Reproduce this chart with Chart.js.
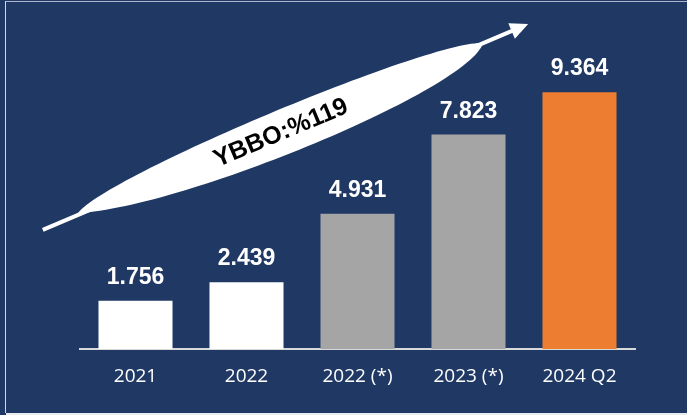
<!DOCTYPE html>
<html>
<head>
<meta charset="utf-8">
<script src="https://cdn.jsdelivr.net/npm/chart.js@4.4.1/dist/chart.umd.min.js"></script>
<style>
  html, body { margin: 0; padding: 0; }
  body { width: 687px; height: 415px; background: #203864; position: relative; overflow: hidden; }
  .frame { position: absolute; left: 5px; top: 1px; right: 0; bottom: 2px; border-left: 1.5px solid #d3d7e4; border-top: 1px solid #aeb6cc; }
  .foot { position: absolute; left: 6px; right: 0; bottom: 0; height: 2px; background: #e9ebf1; }
  #wrap { position: absolute; left: 0; top: 0; width: 687px; height: 415px; }
</style>
</head>
<body>
<div class="frame"></div>
<div class="foot"></div>
<div id="wrap"><canvas id="chart"></canvas></div>
<script>
// data
const categories = ['2021', '2022', '2022 (*)', '2023 (*)', '2024 Q2'];
const values = [1756, 2439, 4931, 7823, 9364];
const barColors = ['#ffffff', '#ffffff', '#a5a5a5', '#a5a5a5', '#ed7d31'];
const growthLabel = 'YBBO:%119';
const yMax = 12000;

// 1756 -> "1.756"
function fmt(v) {
  return String(v).replace(/\B(?=(\d{3})+(?!\d))/g, '.');
}

// values above bars
const valueLabels = {
  id: 'valueLabels',
  afterDatasetsDraw(chart) {
    const ctx = chart.ctx;
    const meta = chart.getDatasetMeta(0);
    ctx.save();
    ctx.font = 'bold 23px "Liberation Sans", Arial, sans-serif';
    ctx.fillStyle = '#ffffff';
    ctx.textAlign = 'center';
    ctx.textBaseline = 'alphabetic';
    meta.data.forEach((bar, i) => {
      ctx.fillText(fmt(values[i]), bar.x, bar.y - 17);
    });
    ctx.restore();
  }
};

// white swoosh arrow with the growth text
const growthArrow = {
  id: 'growthArrow',
  afterDraw(chart) {
    const ctx = chart.ctx;
    const ax = 78, ay = 213, bx = 483, by = 43;
    const len = Math.hypot(bx - ax, by - ay);
    ctx.save();
    ctx.translate(ax, ay);
    ctx.rotate(Math.atan2(by - ay, bx - ax));
    ctx.fillStyle = '#ffffff';
    ctx.strokeStyle = '#ffffff';

    // shaft
    ctx.lineWidth = 4;
    ctx.beginPath();
    ctx.moveTo(-39, 2);
    ctx.lineTo(len + 36, 0);
    ctx.stroke();

    // head
    ctx.beginPath();
    ctx.moveTo(len + 49, 0);
    ctx.lineTo(len + 31, -8.5);
    ctx.lineTo(len + 31, 8.5);
    ctx.closePath();
    ctx.fill();

    // lens
    ctx.beginPath();
    ctx.moveTo(0, 0);
    ctx.bezierCurveTo(40, -24, 395, -23, len, 0);
    ctx.bezierCurveTo(410, 37, 100, 36, 0, 0);
    ctx.closePath();
    ctx.fill();

    ctx.fillStyle = '#000000';
    ctx.font = 'bold 25px "Liberation Sans", Arial, sans-serif';
    ctx.textAlign = 'center';
    ctx.textBaseline = 'middle';
    ctx.fillText(growthLabel, 218, 5);
    ctx.restore();
  }
};

new Chart(document.getElementById('chart'), {
  type: 'bar',
  data: {
    labels: categories,
    datasets: [{
      data: values,
      backgroundColor: barColors,
      borderWidth: 0,
      categoryPercentage: 1,
      barPercentage: 0.667
    }]
  },
  options: {
    responsive: true,
    maintainAspectRatio: false,
    animation: false,
    layout: { padding: { left: 80, right: 52, top: 20, bottom: 0 } },
    plugins: {
      legend: { display: false },
      tooltip: { enabled: false }
    },
    scales: {
      x: {
        grid: { display: false, drawTicks: false },
        border: { display: true, color: '#d9d9d9', width: 2 },
        ticks: {
          color: '#ffffff',
          padding: 16,
          font: { family: '"Open Sans", sans-serif', size: 19 }
        },
        afterFit(axis) { axis.height = 66; }
      },
      y: {
        display: false,
        min: 0,
        max: yMax
      }
    }
  },
  plugins: [valueLabels, growthArrow]
});
</script>
</body>
</html>
